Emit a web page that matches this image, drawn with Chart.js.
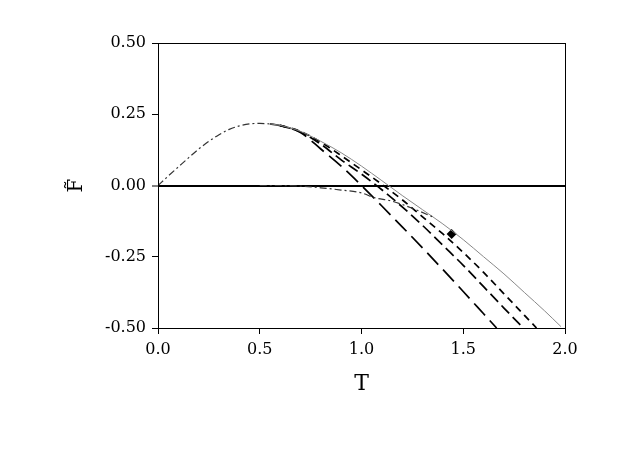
<!DOCTYPE html>
<html>
<head>
<meta charset="utf-8">
<script src="https://cdn.jsdelivr.net/npm/chart.js@4"></script>
<style>
  html, body { margin: 0; padding: 0; background: #fff; }
  #wrap { width: 623px; height: 449px; }
</style>
</head>
<body>
<div id="wrap"><canvas id="chart" width="623" height="449"></canvas></div>
<script>
// rising branch shared by all curves (dash-dot)
const riseT = [0, 0.05, 0.1, 0.15, 0.2, 0.25, 0.3, 0.35, 0.4, 0.45, 0.5, 0.55];
const riseF = [0, 0.033, 0.065, 0.097, 0.128, 0.155, 0.178, 0.197, 0.209, 0.216, 0.218, 0.216];

// thin solid curve
const solidT = [0.55, 0.6, 0.7, 0.8, 0.9, 1.0, 1.1, 1.2, 1.3, 1.4, 1.5, 1.6, 1.7, 1.8, 1.9, 1.98];
const solidF = [0.216, 0.211, 0.19, 0.155, 0.115, 0.068, 0.017, -0.035, -0.085, -0.135, -0.19, -0.25, -0.31, -0.375, -0.44, -0.495];

// short dashes
const shortT = [0.6, 0.7, 0.8, 0.9, 1.0, 1.1, 1.2, 1.3, 1.4, 1.5, 1.6, 1.7, 1.8, 1.86];
const shortF = [0.211, 0.19, 0.152, 0.105, 0.055, 0.004, -0.05, -0.11, -0.17, -0.235, -0.305, -0.38, -0.455, -0.5];

// medium dashes
const medT = [0.6, 0.7, 0.8, 0.9, 1.0, 1.1, 1.2, 1.3, 1.4, 1.5, 1.6, 1.7, 1.795];
const medF = [0.211, 0.188, 0.145, 0.09, 0.04, -0.015, -0.075, -0.14, -0.21, -0.28, -0.355, -0.43, -0.5];

// long dashes
const longT = [0.55, 0.6, 0.7, 0.8, 0.9, 1.0, 1.1, 1.2, 1.3, 1.4, 1.5, 1.6, 1.664];
const longF = [0.216, 0.21, 0.186, 0.128, 0.068, 0.0, -0.072, -0.145, -0.219, -0.295, -0.372, -0.45, -0.5];

// lower dash-dot branch near zero
const lowT = [0.5, 0.6, 0.7, 0.8, 0.9, 1.0, 1.06, 1.15, 1.25, 1.35];
const lowF = [0, 0, -0.002, -0.008, -0.016, -0.026, -0.042, -0.055, -0.08, -0.11];

// single marked point
const markT = [1.443];
const markF = [-0.170];

const xTicks = [0, 0.5, 1.0, 1.5, 2.0];
const yTicks = [-0.5, -0.25, 0, 0.25, 0.5];

function pts(xs, ys) { return xs.map((x, i) => ({ x: x, y: ys[i] })); }

function curve(xs, ys, color, width, dash) {
  return {
    type: 'line',
    data: pts(xs, ys),
    borderColor: color,
    borderWidth: width,
    borderDash: dash,
    pointRadius: 0,
    fill: false,
    tension: 0.4,
    cubicInterpolationMode: 'monotone'
  };
}

// box around the plot area
const frame = {
  id: 'frame',
  afterDraw(chart) {
    const a = chart.chartArea, c = chart.ctx;
    c.save();
    c.strokeStyle = '#000';
    c.lineWidth = 1;
    c.strokeRect(a.left + 0.5, a.top + 0.5, a.right - a.left, a.bottom - a.top);
    c.restore();
  }
};

const serif = "'DejaVu Serif', 'Liberation Serif', serif";

new Chart(document.getElementById('chart').getContext('2d'), {
  type: 'scatter',
  data: {
    datasets: [
      curve(riseT, riseF, '#333', 1.2, [7, 3, 2, 3]),
      curve(lowT, lowF, '#333', 1.2, [7, 3, 2, 3]),
      curve(solidT, solidF, '#888', 1, []),
      curve(shortT, shortF, '#000', 1.7, [7, 5]),
      curve(medT, medF, '#000', 1.7, [11, 5]),
      curve(longT, longF, '#000', 1.7, [16, 7]),
      {
        type: 'scatter',
        data: pts(markT, markF),
        pointStyle: 'rectRot',
        pointRadius: 5,
        backgroundColor: '#000',
        borderColor: '#000',
        borderWidth: 0
      }
    ]
  },
  options: {
    responsive: false,
    animation: false,
    layout: { padding: { left: 55, top: 43, right: 58, bottom: 51 } },
    plugins: { legend: { display: false }, tooltip: { enabled: false } },
    scales: {
      x: {
        type: 'linear',
        min: 0, max: 2,
        afterBuildTicks: s => { s.ticks = xTicks.map(v => ({ value: v })); },
        afterFit: s => { s.height = 70; },
        grid: { color: 'rgba(0,0,0,0)', tickColor: '#000', tickLength: 6, drawOnChartArea: false },
        border: { color: '#000', width: 1 },
        ticks: {
          color: '#000', padding: 6,
          font: { family: serif, size: 16 },
          callback: v => Number(v).toFixed(1)
        },
        title: {
          display: true, text: 'T', color: '#000',
          font: { family: serif, size: 22 },
          padding: { top: 0, bottom: 1 }
        }
      },
      y: {
        type: 'linear',
        min: -0.5, max: 0.5,
        afterBuildTicks: s => { s.ticks = yTicks.map(v => ({ value: v })); },
        afterFit: s => { s.width = 103; },
        grid: {
          color: c => (c.tick && c.tick.value === 0) ? '#000' : 'rgba(0,0,0,0)',
          lineWidth: c => (c.tick && c.tick.value === 0) ? 2 : 1,
          tickColor: '#000', tickWidth: 1, tickLength: 6
        },
        border: { color: '#000', width: 1 },
        ticks: {
          color: '#000', padding: 6,
          font: { family: serif, size: 16 },
          callback: v => Number(v).toFixed(2)
        },
        title: {
          display: true, text: 'F\u0303', color: '#000',
          font: { family: serif, size: 20 },
          padding: { top: 10, bottom: 0 }
        }
      }
    }
  },
  plugins: [frame]
});
</script>
</body>
</html>
